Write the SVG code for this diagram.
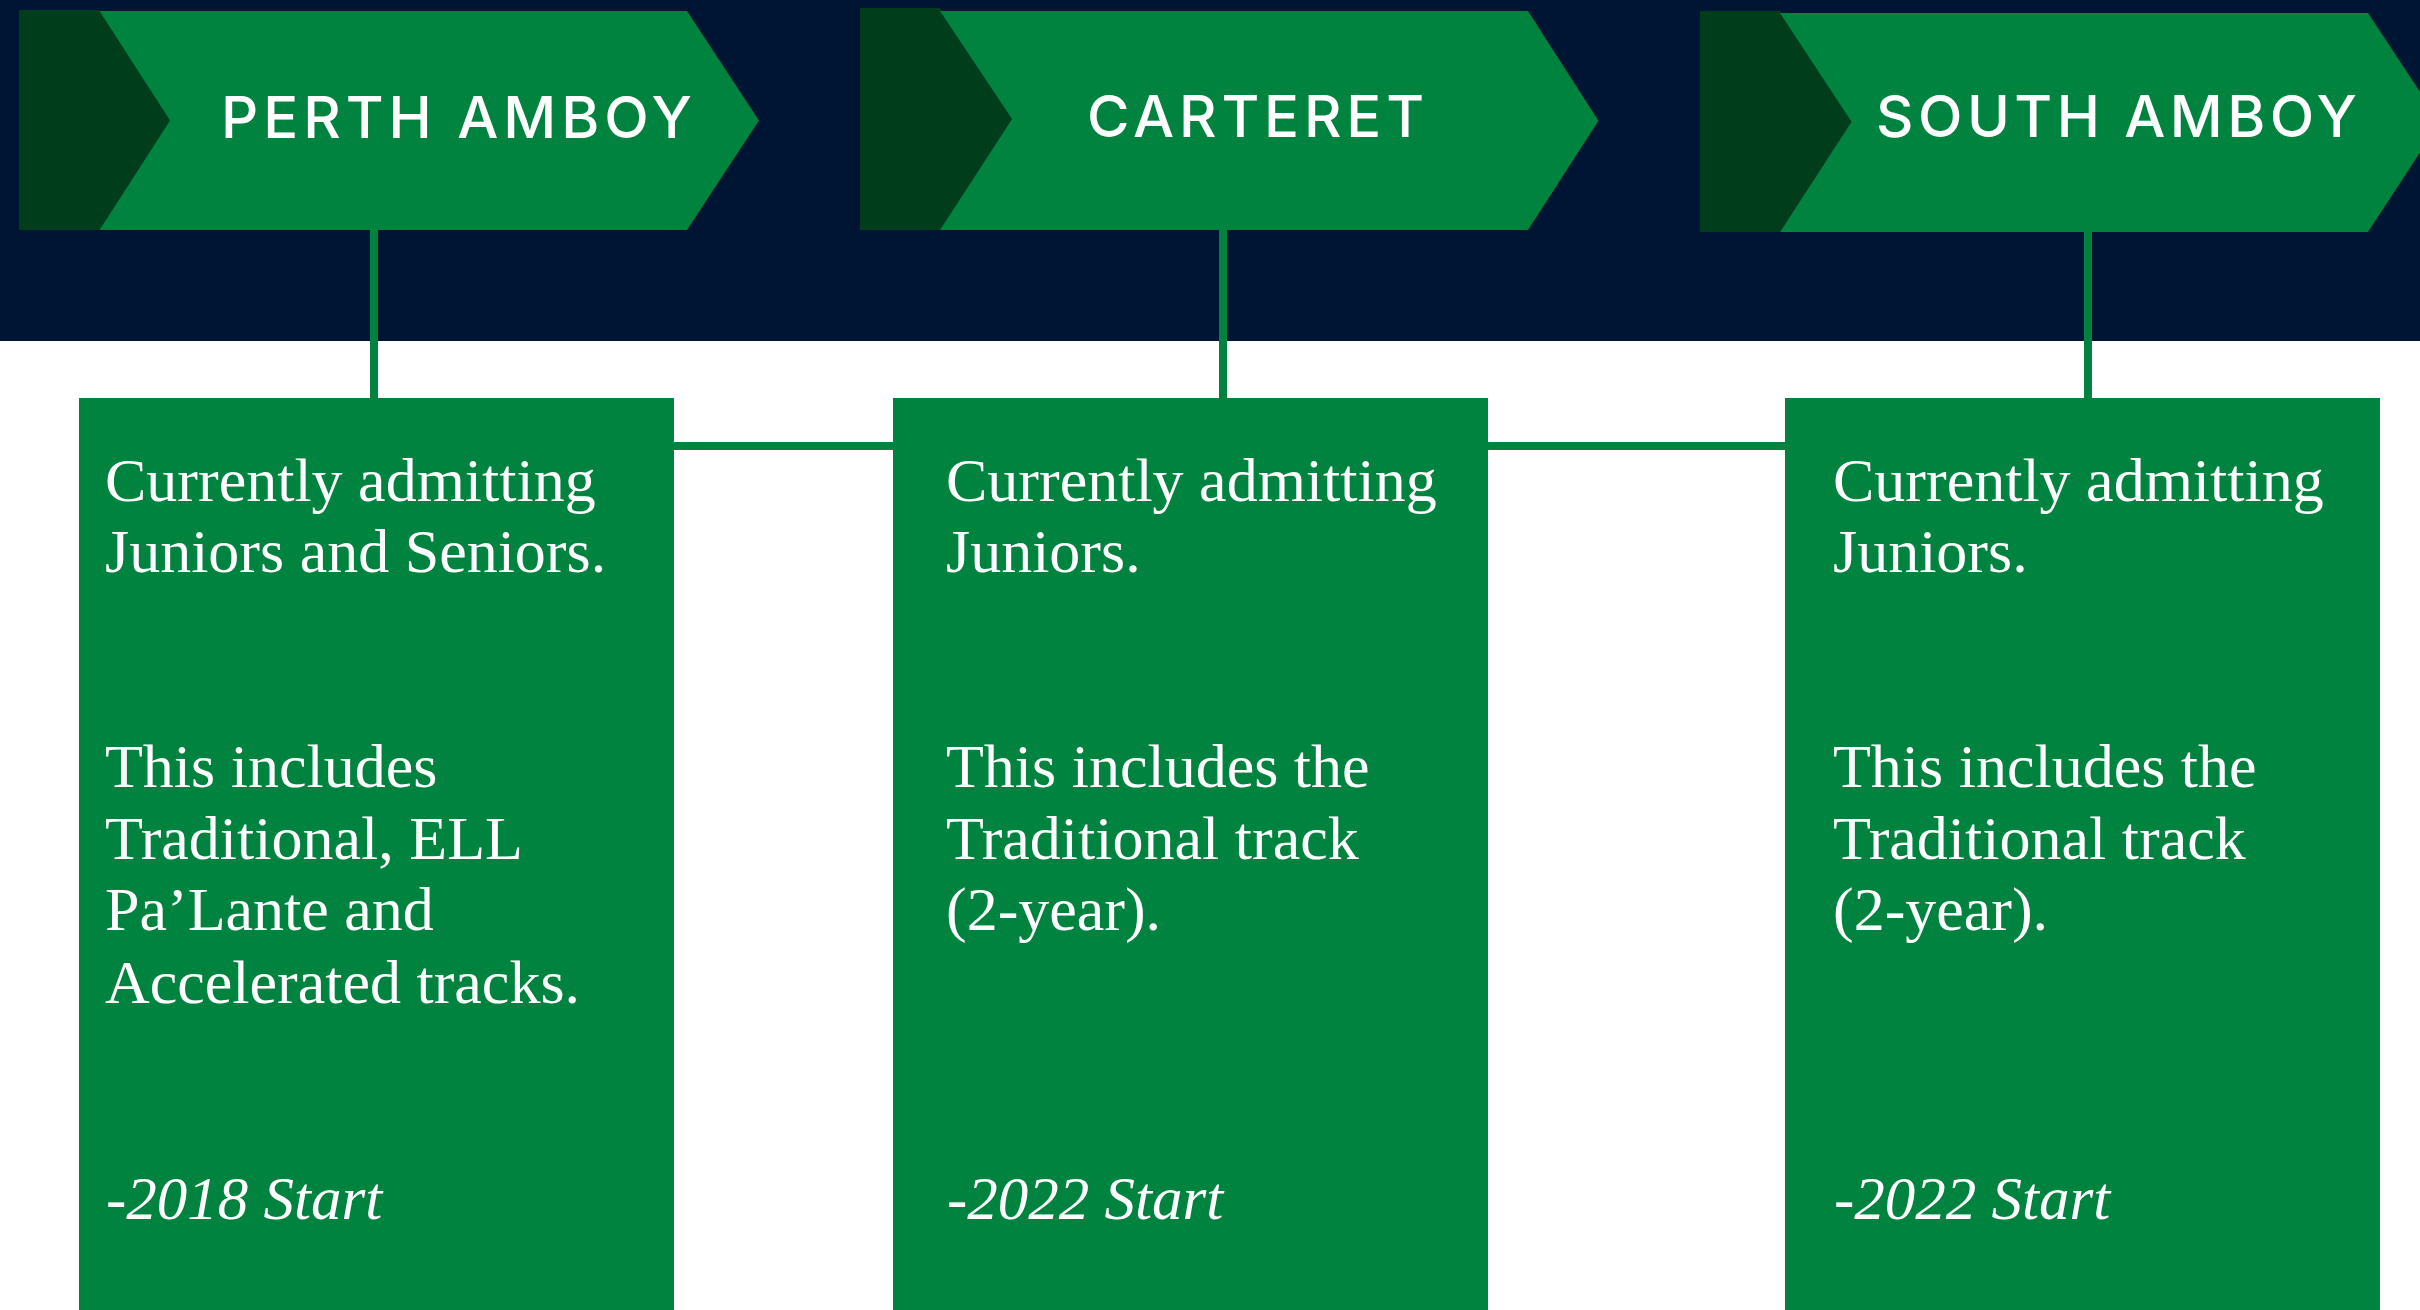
<svg xmlns="http://www.w3.org/2000/svg" width="2420" height="1310" viewBox="0 0 2420 1310">
<style>
.band{fill:#001533}
.dark{fill:#003D1B}
.green{fill:#00833E}
.conn{stroke:#00833E;stroke-width:8;fill:none}
.head{font-family:Inter,"Liberation Sans",sans-serif;font-size:58px;font-weight:500;fill:#ffffff}
.body{font-family:"Liberation Serif","Times New Roman",serif;font-size:62px;fill:#ffffff}
.date{font-family:"Liberation Serif","Times New Roman",serif;font-size:61px;font-style:italic;fill:#ffffff}
</style>
<rect x="0" y="0" width="2420" height="1310" fill="#ffffff"/>
<rect class="band" x="0" y="0" width="2420" height="341"/>
<g id="connectors">
<line class="conn" x1="374" y1="228" x2="374" y2="400"/>
<line class="conn" x1="1223" y1="228" x2="1223" y2="400"/>
<line class="conn" x1="2088" y1="230" x2="2088" y2="400"/>
<line class="conn" x1="672" y1="446" x2="895" y2="446"/>
<line class="conn" x1="1486" y1="446" x2="1787" y2="446"/>
</g>
<g id="arrow-perth-amboy">
<polygon class="dark" points="19,10 99.5,10 170,120.5 99.5,230 19,230"/>
<polygon class="green" points="99.5,11 687,11 759,120.5 687,230 99.5,230 170,120.5"/>
<text class="head" x="221" y="138" textLength="471" lengthAdjust="spacing">PERTH AMBOY</text>
</g>
<g id="arrow-carteret">
<polygon class="dark" points="860,8 940,8 1012,119 940,230 860,230"/>
<polygon class="green" points="940,11 1528,11 1598.5,120.7 1528,230 940,230 1012,119"/>
<text class="head" x="1087" y="137" textLength="337" lengthAdjust="spacing">CARTERET</text>
</g>
<g id="arrow-south-amboy">
<polygon class="dark" points="1700,11 1780,11 1851.5,121.7 1780,232 1700,232"/>
<polygon class="green" points="1780,13 2368,13 2440,122 2368,232 1780,232 1851.5,121.7"/>
<text class="head" x="1876" y="137" textLength="481" lengthAdjust="spacing">SOUTH AMBOY</text>
</g>
<g id="box-perth-amboy">
<rect class="green" x="79" y="398" width="595" height="912"/>
<text class="body" x="105" y="501">Currently admitting</text>
<text class="body" x="105" y="572">Juniors and Seniors.</text>
<text class="body" x="105" y="787">This includes</text>
<text class="body" x="105" y="859">Traditional, ELL</text>
<text class="body" x="105" y="930">Pa’Lante and</text>
<text class="body" x="105" y="1003">Accelerated tracks.</text>
<text class="date" x="106" y="1219">-2018 Start</text>
</g>
<g id="box-carteret">
<rect class="green" x="893" y="398" width="595" height="912"/>
<text class="body" x="946" y="501">Currently admitting</text>
<text class="body" x="946" y="572">Juniors.</text>
<text class="body" x="946" y="787">This includes the</text>
<text class="body" x="946" y="859">Traditional track</text>
<text class="body" x="946" y="930">(2-year).</text>
<text class="date" x="947" y="1219">-2022 Start</text>
</g>
<g id="box-south-amboy">
<rect class="green" x="1785" y="398" width="595" height="912"/>
<text class="body" x="1833" y="501">Currently admitting</text>
<text class="body" x="1833" y="572">Juniors.</text>
<text class="body" x="1833" y="787">This includes the</text>
<text class="body" x="1833" y="859">Traditional track</text>
<text class="body" x="1833" y="930">(2-year).</text>
<text class="date" x="1834" y="1219">-2022 Start</text>
</g>
</svg>
